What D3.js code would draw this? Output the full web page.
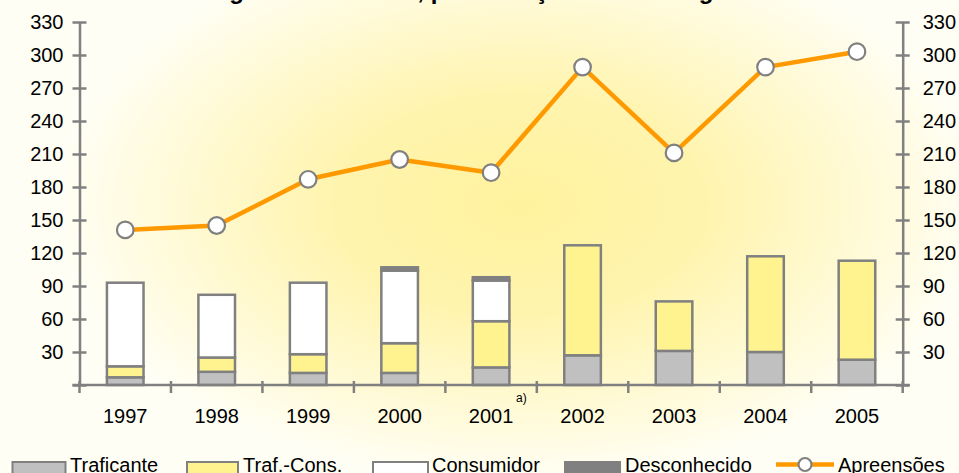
<!DOCTYPE html>
<html>
<head>
<meta charset="utf-8">
<script src="https://cdn.jsdelivr.net/npm/d3@7"></script>
<style>
  html, body { margin: 0; padding: 0; background: #FFFEF4; }
  svg { display: block; font-family: "Liberation Sans", Arial, sans-serif; }
</style>
</head>
<body>
<script>
const years = ["1997","1998","1999","2000","2001","2002","2003","2004","2005"];
const traficante   = [7, 12, 11, 11, 16, 27, 31, 30, 23];
const trafCons     = [10, 13, 17, 27, 42, 100, 45, 87, 90];
const consumidor   = [76, 57, 65, 66, 37, 0, 0, 0, 0];
const desconhecido = [0, 0, 0, 3, 3, 0, 0, 0, 0];
const apreensoes   = [141, 145, 187, 205, 193, 289, 211, 289, 303];
const yTicks = [0, 30, 60, 90, 120, 150, 180, 210, 240, 270, 300, 330];
const seriesNames = ["Traficante", "Traf.-Cons.", "Consumidor", "Desconhecido"];
const lineName = "Apreensões";
const titleText = "Droga: Condenados, por Situação face à Droga";
const noteText = "a)";

(function () {
const W = 959, H = 473;
const colors = { "Traficante": "#C0C0C0", "Traf.-Cons.": "#FFF38F", "Consumidor": "#FFFFFF", "Desconhecido": "#808080" };
const axisColor = "#808080";
const lineColor = "#FF9900";

const svg = d3.select("body").append("svg").attr("width", W).attr("height", H);

// background gradient
const defs = svg.append("defs");
const grad = defs.append("radialGradient").attr("id", "bg")
  .attr("gradientUnits", "userSpaceOnUse")
  .attr("cx", 520).attr("cy", 205).attr("r", 460)
  .attr("gradientTransform", "translate(520,205) scale(1,0.6) translate(-520,-205)");
grad.append("stop").attr("offset", "0%").attr("stop-color", "#FFF29E");
grad.append("stop").attr("offset", "40%").attr("stop-color", "#FFF4AE");
grad.append("stop").attr("offset", "100%").attr("stop-color", "#FFFEF4");
svg.append("rect").attr("width", W).attr("height", H).attr("fill", "url(#bg)");

const pLeft = 79.5, pRight = 902.7, pTop = 22, pBottom = 385;

const x = d3.scaleBand().domain(years).range([pLeft, pRight]).paddingInner(0.6).paddingOuter(0.3);
const y = d3.scaleLinear().domain([0, 330]).range([pBottom, pTop]);

// title (clipped at top, as in the reference)
svg.append("text").attr("x", 188).attr("y", -1)
  .attr("font-size", 24).attr("font-weight", "bold").attr("fill", "#000")
  .text(titleText);

// stacked bars
const table = years.map((yr, i) => ({
  year: yr,
  "Traficante": traficante[i],
  "Traf.-Cons.": trafCons[i],
  "Consumidor": consumidor[i],
  "Desconhecido": desconhecido[i]
}));
const stack = d3.stack().keys(seriesNames)(table);

const barsG = svg.append("g");
stack.forEach(layer => {
  barsG.append("g").selectAll("rect")
    .data(layer.filter(d => d[1] - d[0] > 0))
    .join("rect")
    .attr("x", d => x(d.data.year))
    .attr("width", x.bandwidth())
    .attr("y", d => y(d[1]))
    .attr("height", d => y(d[0]) - y(d[1]))
    .attr("fill", colors[layer.key])
    .attr("stroke", axisColor)
    .attr("stroke-width", 2.5);
});

// axes
function styleAxis(g) {
  g.select(".domain").attr("stroke", axisColor).attr("stroke-width", 2.5);
  g.selectAll(".tick line").attr("stroke", axisColor).attr("stroke-width", 2.5);
  g.selectAll(".tick text").attr("font-size", 20).attr("fill", "#000")
    .attr("font-family", "Liberation Sans, Arial, sans-serif");
}
const fmt = d => d === 0 ? "" : d;

const yl = svg.append("g").attr("transform", `translate(${pLeft},0)`)
  .call(d3.axisLeft(y).tickValues(yTicks).tickFormat(fmt).tickSizeOuter(0).tickSizeInner(7).tickPadding(9));
yl.selectAll(".tick line").attr("x1", -7).attr("x2", 7);
styleAxis(yl);

const yr = svg.append("g").attr("transform", `translate(${pRight},0)`)
  .call(d3.axisRight(y).tickValues(yTicks).tickFormat(fmt).tickSizeOuter(0).tickSizeInner(7).tickPadding(13));
yr.selectAll(".tick line").attr("x1", -7).attr("x2", 7);
styleAxis(yr);

// x axis with labels
const xa = svg.append("g").attr("transform", `translate(0,${pBottom})`)
  .call(d3.axisBottom(x).tickSize(0).tickSizeOuter(0).tickPadding(23));
styleAxis(xa);
xa.select(".domain").attr("d", `M${pLeft - 7},0H${pRight + 7}`);
xa.selectAll(".tick text").attr("dy", "0.71em").attr("y", 23.5);

// category boundary ticks
const step = x.step();
const boundaries = years.map(yv => x(yv) - (step - x.bandwidth()) / 2).concat([pRight]);
svg.append("g").selectAll("line").data(boundaries).join("line")
  .attr("x1", d => d).attr("x2", d => d)
  .attr("y1", pBottom - 4).attr("y2", pBottom + 8)
  .attr("stroke", axisColor).attr("stroke-width", 2.5);

// note
svg.append("text").attr("x", 516).attr("y", 401.5).attr("font-size", 12).text(noteText);

// line
const cx = d => x(d) + x.bandwidth() / 2;
const lineData = years.map((yv, i) => [cx(yv), y(apreensoes[i])]);
svg.append("path").attr("d", d3.line()(lineData))
  .attr("fill", "none").attr("stroke", lineColor).attr("stroke-width", 4.5).attr("stroke-linejoin", "round");
svg.append("g").selectAll("circle").data(lineData).join("circle")
  .attr("cx", d => d[0]).attr("cy", d => d[1]).attr("r", 8.3)
  .attr("fill", "#fff").attr("stroke", axisColor).attr("stroke-width", 2.2);

// legend
const leg = svg.append("g");
const legItems = [
  { name: "Traficante", x0: 12.5, x1: 65.5, tx: 70 },
  { name: "Traf.-Cons.", x0: 187, x1: 238, tx: 243 },
  { name: "Consumidor", x0: 373, x1: 428, tx: 432 },
  { name: "Desconhecido", x0: 565, x1: 620, tx: 625 }
];
legItems.forEach(it => {
  leg.append("rect").attr("x", it.x0).attr("y", 462).attr("width", it.x1 - it.x0).attr("height", 16)
    .attr("fill", colors[it.name]).attr("stroke", axisColor).attr("stroke-width", 2);
  leg.append("text").attr("x", it.tx).attr("y", 471.5).attr("font-size", 20).text(it.name);
});
leg.append("line").attr("x1", 776).attr("x2", 834).attr("y1", 464.5).attr("y2", 464.5)
  .attr("stroke", lineColor).attr("stroke-width", 4.5);
leg.append("circle").attr("cx", 805).attr("cy", 464.5).attr("r", 6.5)
  .attr("fill", "#fff").attr("stroke", axisColor).attr("stroke-width", 2.2);
leg.append("text").attr("x", 838).attr("y", 471.5).attr("font-size", 20).text(lineName);
})();
</script>
</body>
</html>
